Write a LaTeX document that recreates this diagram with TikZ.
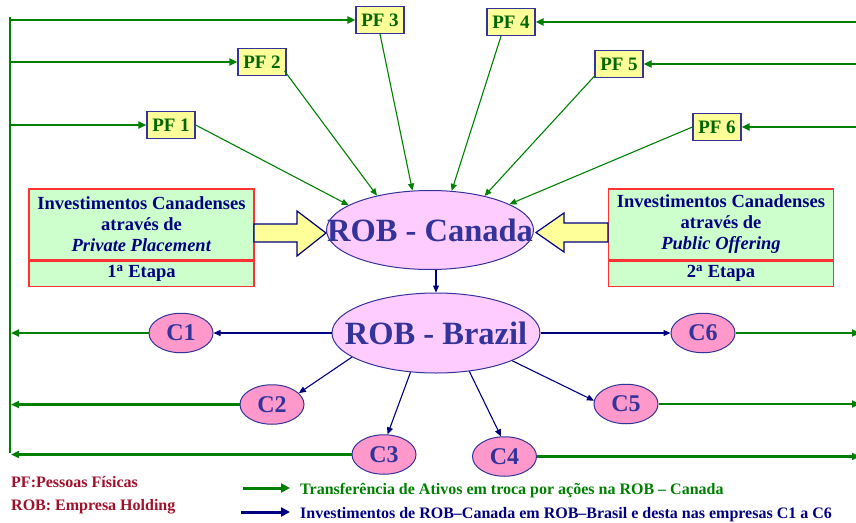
\documentclass[tikz,border=0pt]{standalone}
\usepackage{fontspec}
\setmainfont{Liberation Serif}
\usetikzlibrary{arrows.meta,calc,shapes.geometric}

\definecolor{linegreen}{RGB}{0,128,0}
\definecolor{pftext}{RGB}{0,102,0}
\definecolor{navyblue}{RGB}{0,0,128}
\definecolor{slate}{RGB}{51,51,153}
\definecolor{pfyellow}{RGB}{255,255,153}
\definecolor{robpink}{RGB}{255,204,255}
\definecolor{cpink}{RGB}{255,153,204}
\definecolor{mint}{RGB}{204,255,204}
\definecolor{boxred}{RGB}{255,51,51}
\definecolor{legred}{RGB}{160,16,42}

\newcommand\bfsz[2]{\fontsize{#1}{#2}\selectfont\bfseries}

\tikzset{
  pfbox/.style={rectangle, draw=slate, line width=1.2pt, fill=pfyellow, text=pftext,
    font=\bfsz{19}{22}, minimum width=48pt, minimum height=27pt, inner sep=0pt},
  rob/.style={ellipse, draw=slate, line width=1pt, fill=robpink, text=slate,
    font=\bfsz{32.5}{36}, inner sep=0pt},
  comp/.style={ellipse, draw=slate, line width=1pt, fill=cpink, text=slate,
    font=\bfsz{24}{26}, minimum width=64pt, minimum height=39.5pt, inner sep=0pt},
  info/.style={rectangle, draw=boxred, line width=1.2pt, fill=mint, text=navyblue,
    font=\bfsz{18.5}{21}, align=center, minimum width=225pt, inner sep=0pt},
  fatarrow/.style={draw=navyblue, line width=1.2pt, fill=pfyellow, line join=miter},
  feed/.style={draw=linegreen, line width=2.6pt, -{Triangle[length=8pt,width=7pt]}},
  transfer/.style={draw=linegreen, line width=1.1pt, -{Triangle[length=7pt,width=6pt]}},
  invest/.style={draw=navyblue, line width=1.1pt, -{Triangle[length=7pt,width=6pt]}},
  legtext/.style={anchor=base west, inner sep=0pt, font=\bfsz{16}{18}},
}

\begin{document}
\begin{tikzpicture}[x=1pt,y=-1pt]
\useasboundingbox (0,0) rectangle (856,522);

% holding companies (labels in zero-width boxes so the ellipse keeps its set size)
\node[rob, minimum width=207pt, minimum height=79pt] (can) at (430,230) {\makebox[0pt]{ROB - Canada}};
\node[rob, minimum width=208pt, minimum height=80pt] (bra) at (436,333) {\makebox[0pt]{ROB - Brazil}};

% individual shareholders
\node[pfbox] (pf1) at (171,125) {PF 1};
\node[pfbox] (pf2) at (262,62) {PF 2};
\node[pfbox] (pf3) at (380,20) {PF 3};
\node[pfbox] (pf4) at (511,22) {PF 4};
\node[pfbox] (pf5) at (619,64) {PF 5};
\node[pfbox] (pf6) at (717,127) {PF 6};

% operating companies
\node[comp] (c1) at (181,333) {C1};
\node[comp] (c2) at (272,404.5) {C2};
\node[comp] (c3) at (384,454.5) {C3};
\node[comp] (c4) at (504.5,456.5) {C4};
\node[comp] (c5) at (626,404) {C5};
\node[comp] (c6) at (703,333) {C6};

% investment stages
\node[info, minimum height=71pt] (privL) at (141.5,224.5)
  {Investimentos Canadenses\\através de\\\textit{Private Placement}};
\node[info, minimum height=25pt, anchor=north] (etL) at (privL.south) {1\textsuperscript{a} Etapa};
\node[info, minimum height=71pt] (pubR) at (721,224.5)
  {Investimentos Canadenses\\através de\\\textit{Public Offering}};
\node[info, minimum height=25pt, anchor=north] (etR) at (pubR.south) {2\textsuperscript{a} Etapa};

% block arrows into ROB - Canada
\draw[fatarrow] (254,224) -- (297,224) -- (297,211) -- (326,233) -- (297,256)
  -- (297,242) -- (254,242) -- cycle;
\draw[fatarrow] (608,223) -- (564,223) -- (564,213) -- (536,232.5) -- (564,252)
  -- (564,242) -- (608,242) -- cycle;

% left return bus
\coordinate (lt) at (10,17);
\coordinate (lb) at (10,453);
\draw[linegreen, line width=2.6pt] (lt) -- (lb);
\coordinate (l1) at (10,125);
\coordinate (l2) at (10,62);
\coordinate (l3) at (10,20);
\draw[feed] (l3) -- (pf3.west);
\draw[feed] (l2) -- (pf2.west);
\draw[feed] (l1) -- (pf1.west);
\coordinate (k1) at (11,333);
\coordinate (k2) at (11,404.5);
\coordinate (k3) at (11,454.5);
\draw[feed] (c1.west) -- (k1);
\draw[feed] (c2.west) -- (k2);
\draw[feed] (c3.west) -- (k3);

% right side
\coordinate (r4) at (857,22);
\coordinate (r5) at (857,64);
\coordinate (r6) at (857,127);
\draw[feed] (r4) -- (pf4.east);
\draw[feed] (r5) -- (pf5.east);
\draw[feed] (r6) -- (pf6.east);
\coordinate (s6) at (860,333);
\coordinate (s5) at (860,404);
\coordinate (s4) at (860,456.5);
\draw[feed] (c6.east) -- (s6);
\draw[feed] (c5.east) -- (s5);
\draw[feed] (c4.east) -- (s4);

% asset transfers into ROB - Canada
\draw[transfer] (pf1.east) -- (can.163);
\draw[transfer] ($(pf2.south east)+(-2,-5)$) -- (can.147);
\draw[transfer] (pf3.south) -- (can.114);
\draw[transfer] ($(pf4.south)+(-10,0)$) -- (can.61);
\draw[transfer] ($(pf5.south west)+(1,-3)$) -- (can.32);
\draw[transfer] (pf6.west) -- (can.18);

% investments
\draw[invest] (can.south -| bra.north) -- (bra.north);
\draw[invest] (bra.west) -- (c1.east);
\draw[invest] (bra.east) -- (c6.west);
\draw[invest] (bra.196) -- (c2.23);
\draw[invest] (bra.237) -- (c3.80);
\draw[invest] (bra.311) -- (c4.100);
\draw[invest] (bra.340) -- (c5.174);

% legend
\node[legtext, text=legred] (lg1) at (11,487) {PF:Pessoas Físicas};
\node[legtext, text=legred] (lg2) at (11,510) {ROB: Empresa Holding};
\node[legtext, text=linegreen] (lg3) at (300,494) {Transferência de Ativos em troca por ações na ROB – Canada};
\node[legtext, text=navyblue] (lg4) at (300,518) {Investimentos de ROB–Canada em ROB–Brasil e desta nas empresas C1 a C6};
\coordinate (a3) at (243,488);
\coordinate (a4) at (241,512);
\draw[linegreen, line width=3pt, -{Triangle[length=9pt,width=9pt]}] (a3) -- ($(lg3.base west)+(-10,-6)$);
\draw[navyblue, line width=3pt, -{Triangle[length=9pt,width=9pt]}] (a4) -- ($(lg4.base west)+(-10,-6)$);
\end{tikzpicture}
\end{document}
